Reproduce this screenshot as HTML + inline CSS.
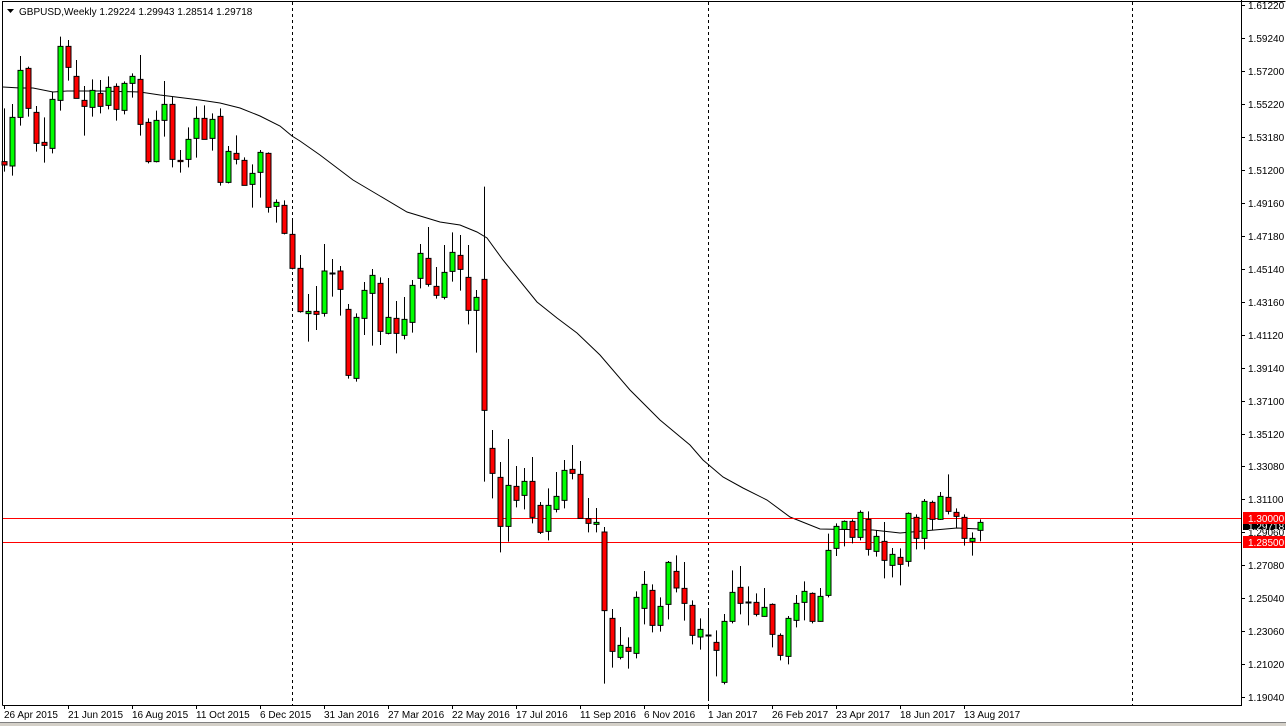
<!DOCTYPE html>
<html><head><meta charset="utf-8"><style>
html,body{margin:0;padding:0;background:#fff;}
svg{display:block;font-family:"Liberation Sans",Arial,sans-serif;}
.w{stroke:#000;stroke-width:1;fill:none;vector-effect:non-scaling-stroke}
.r{fill:#f00;stroke:#000;stroke-width:1;vector-effect:non-scaling-stroke}
.g{fill:#0f0;stroke:#000;stroke-width:1;vector-effect:non-scaling-stroke}
.t{font-size:10px;fill:#000}
</style></head><body>
<svg width="1286" height="726" viewBox="0 0 1286 726" xmlns="http://www.w3.org/2000/svg">
<rect x="0" y="0" width="1286" height="726" fill="#fff"/>
<rect x="0" y="722" width="1286" height="4" fill="#d4d0c8"/>
<!-- frame -->
<path d="M2.5 705.5V1.5H1285.5" stroke="#000" fill="none"/>
<line x1="2.5" y1="705.5" x2="1241.5" y2="705.5" stroke="#000"/>
<line x1="1241.5" y1="0" x2="1241.5" y2="706" stroke="#000"/>
<!-- dashed verticals -->
<g stroke="#000" stroke-dasharray="3,3">
<line x1="292.5" y1="2" x2="292.5" y2="705"/>
<line x1="708.5" y1="2" x2="708.5" y2="705"/>
<line x1="1132.5" y1="2" x2="1132.5" y2="705"/>
</g>
<!-- MA -->
<polyline fill="none" stroke="#000" stroke-width="1" points="3,87 20,88 33,88 53,92 67,91 100,91 140,92 160,95 200,100 220,103 240,108 260,116 280,126 292,136 300,141 320,155 353,180 380,196 407,212 440,222 460,225 477,232 487,238 503,260 537,302 557,318 577,333 600,355 630,390 660,420 690,445 703,460 723,477 743,488 767,500 790,517 820,529 873,530 900,533 923,531 957,528 980,529"/>
<!-- red lines -->
<line x1="3" y1="518.5" x2="1241" y2="518.5" stroke="#f00"/>
<line x1="3" y1="542.5" x2="1241" y2="542.5" stroke="#f00"/>
<!-- group 1 -->
<g transform="translate(0.5,30) scale(1,0.33333)">
<path class="w" d="M4 235V425M12 222V437M20 78V287M28 110V260M36 228V365M44 262V398M52 185V370M60 20V242M68 30V152M76 90V205M84 168V317M92 148V260M100 150V250M108 139V238M116 160V272M124 154V253M132 130V203M140 75V317M148 265V400M156 242V397M164 153V320M172 200V412M180 360V428M188 292V412M196 229V383M204 226V328M212 250V362M220 235V467M228 348V460M236 316V403M244 382V466M252 403V533M260 360V503M268 367V548M276 508V578M284 511V613M292 568V718"/>
<rect class="r" x="1.5" y="395" width="5" height="10"/>
<rect class="g" x="9.5" y="262" width="5" height="146"/>
<rect class="g" x="17.5" y="121" width="5" height="141"/>
<rect class="r" x="25.5" y="115" width="5" height="120"/>
<rect class="r" x="33.5" y="247" width="5" height="93"/>
<rect class="r" x="41.5" y="337" width="5" height="9"/>
<rect class="g" x="49.5" y="208" width="5" height="147"/>
<rect class="g" x="57.5" y="49" width="5" height="162"/>
<rect class="r" x="65.5" y="49" width="5" height="63"/>
<rect class="r" x="73.5" y="139" width="5" height="66"/>
<rect class="r" x="81.5" y="211" width="5" height="18"/>
<rect class="g" x="89.5" y="181" width="5" height="51"/>
<rect class="r" x="97.5" y="190" width="5" height="39"/>
<rect class="g" x="105.5" y="172" width="5" height="54"/>
<rect class="r" x="113.5" y="169" width="5" height="69"/>
<rect class="g" x="121.5" y="160" width="5" height="81"/>
<rect class="g" x="129.5" y="139" width="5" height="21"/>
<rect class="r" x="137.5" y="148" width="5" height="135"/>
<rect class="r" x="145.5" y="277" width="5" height="118"/>
<rect class="g" x="153.5" y="271" width="5" height="124"/>
<rect class="g" x="161.5" y="223" width="5" height="48"/>
<rect class="r" x="169.5" y="223" width="5" height="165"/>
<rect class="r" x="177.5" y="391" width="5" height="4"/>
<rect class="g" x="185.5" y="328" width="5" height="60"/>
<rect class="g" x="193.5" y="265" width="5" height="60"/>
<rect class="r" x="201.5" y="265" width="5" height="63"/>
<rect class="g" x="209.5" y="268" width="5" height="57"/>
<rect class="r" x="217.5" y="259" width="5" height="198"/>
<rect class="g" x="225.5" y="364" width="5" height="93"/>
<rect class="r" x="233.5" y="370" width="5" height="18"/>
<rect class="r" x="241.5" y="391" width="5" height="75"/>
<rect class="g" x="249.5" y="430" width="5" height="33"/>
<rect class="g" x="257.5" y="367" width="5" height="60"/>
<rect class="r" x="265.5" y="370" width="5" height="162"/>
<rect class="g" x="273.5" y="517" width="5" height="12"/>
<rect class="r" x="281.5" y="526" width="5" height="84"/>
<rect class="r" x="289.5" y="613" width="5" height="102"/>
</g>
<!-- group 2 -->
<g transform="translate(0.5,180) scale(1,0.33333)">
<path class="w" d="M300 225V398M308 342V485M316 318V450M324 192V410M332 237V350M340 258V407M348 372V596M356 400V605M364 306V465M372 267V497M380 292V495M388 294V463M396 363V520M404 351V478M412 300V458M420 192V325M428 141V320M436 261V356M444 195V358M452 157V305M460 165V332M468 195V433M476 330V518M484 20V905M492 750V955M500 846V1117M508 777V1085M516 858V982M524 864V988M532 831V1030M540 966V1062M548 925V1081M556 876V997M564 840V985M572 795V898M580 843V1015M588 954V1057M596 984V1057"/>
<rect class="r" x="297.5" y="265" width="5" height="130"/>
<rect class="g" x="305.5" y="394" width="5" height="7"/>
<rect class="r" x="313.5" y="394" width="5" height="9"/>
<rect class="g" x="321.5" y="273" width="5" height="127"/>
<rect class="g" x="329.5" y="279" width="5" height="3"/>
<rect class="r" x="337.5" y="273" width="5" height="55"/>
<rect class="r" x="345.5" y="388" width="5" height="198"/>
<rect class="g" x="353.5" y="412" width="5" height="183"/>
<rect class="g" x="361.5" y="331" width="5" height="84"/>
<rect class="g" x="369.5" y="286" width="5" height="54"/>
<rect class="r" x="377.5" y="310" width="5" height="144"/>
<rect class="g" x="385.5" y="412" width="5" height="48"/>
<rect class="r" x="393.5" y="415" width="5" height="45"/>
<rect class="g" x="401.5" y="418" width="5" height="48"/>
<rect class="g" x="409.5" y="316" width="5" height="111"/>
<rect class="g" x="417.5" y="220" width="5" height="75"/>
<rect class="r" x="425.5" y="235" width="5" height="78"/>
<rect class="r" x="433.5" y="319" width="5" height="27"/>
<rect class="g" x="441.5" y="277" width="5" height="75"/>
<rect class="g" x="449.5" y="217" width="5" height="57"/>
<rect class="r" x="457.5" y="226" width="5" height="42"/>
<rect class="r" x="465.5" y="292" width="5" height="99"/>
<rect class="g" x="473.5" y="352" width="5" height="39"/>
<rect class="r" x="481.5" y="298" width="5" height="393"/>
<rect class="r" x="489.5" y="805" width="5" height="75"/>
<rect class="r" x="497.5" y="892" width="5" height="147"/>
<rect class="g" x="505.5" y="916" width="5" height="123"/>
<rect class="r" x="513.5" y="919" width="5" height="42"/>
<rect class="g" x="521.5" y="904" width="5" height="42"/>
<rect class="r" x="529.5" y="904" width="5" height="108"/>
<rect class="r" x="537.5" y="976" width="5" height="81"/>
<rect class="g" x="545.5" y="976" width="5" height="78"/>
<rect class="g" x="553.5" y="949" width="5" height="39"/>
<rect class="g" x="561.5" y="871" width="5" height="90"/>
<rect class="r" x="569.5" y="868" width="5" height="12"/>
<rect class="r" x="577.5" y="883" width="5" height="132"/>
<rect class="r" x="585.5" y="1016" width="5" height="14"/>
<rect class="g" x="593.5" y="1027" width="5" height="6"/>
</g>
<!-- group 3 -->
<g transform="translate(0.5,460) scale(1,0.33333)">
<path class="w" d="M604 201V671M612 447V623M620 501V598M628 532V626M636 394V595M644 333V493M652 373V517M660 412V515M668 303V478M676 286V397M684 306V482M692 421V553M700 475V569M708 448V718M716 511V649M724 462V673M732 331V490M740 318V463M748 379V496M756 400V469M764 384V470M772 430V562M780 520V601M788 468V613M796 405V502M804 364V481M812 397V490M820 384V485M828 221V412M836 190V288M844 181V259M852 178V250M860 151V241M868 154V287M876 211V290M884 186V355M892 264V352M900 265V376M908 157V320M916 163V268M924 117V268M932 122V210M940 96V180M948 43V163M956 145V204M964 163V257M972 217V287M980 178V244"/>
<rect class="r" x="601.5" y="216" width="5" height="236"/>
<rect class="r" x="609.5" y="475" width="5" height="99"/>
<rect class="g" x="617.5" y="556" width="5" height="36"/>
<rect class="r" x="625.5" y="562" width="5" height="12"/>
<rect class="g" x="633.5" y="412" width="5" height="168"/>
<rect class="g" x="641.5" y="373" width="5" height="72"/>
<rect class="r" x="649.5" y="391" width="5" height="105"/>
<rect class="g" x="657.5" y="439" width="5" height="57"/>
<rect class="g" x="665.5" y="307" width="5" height="126"/>
<rect class="r" x="673.5" y="334" width="5" height="50"/>
<rect class="r" x="681.5" y="385" width="5" height="45"/>
<rect class="r" x="689.5" y="436" width="5" height="90"/>
<rect class="g" x="697.5" y="508" width="5" height="23"/>
<rect class="g" x="705.5" y="525" width="5" height="3"/>
<rect class="r" x="713.5" y="547" width="5" height="24"/>
<rect class="g" x="721.5" y="484" width="5" height="183"/>
<rect class="g" x="729.5" y="397" width="5" height="87"/>
<rect class="r" x="737.5" y="382" width="5" height="48"/>
<rect class="g" x="745.5" y="426" width="5" height="3"/>
<rect class="r" x="753.5" y="427" width="5" height="36"/>
<rect class="g" x="761.5" y="442" width="5" height="27"/>
<rect class="r" x="769.5" y="433" width="5" height="90"/>
<rect class="r" x="777.5" y="526" width="5" height="60"/>
<rect class="g" x="785.5" y="475" width="5" height="114"/>
<rect class="g" x="793.5" y="430" width="5" height="51"/>
<rect class="g" x="801.5" y="394" width="5" height="33"/>
<rect class="r" x="809.5" y="400" width="5" height="84"/>
<rect class="g" x="817.5" y="409" width="5" height="75"/>
<rect class="g" x="825.5" y="271" width="5" height="135"/>
<rect class="g" x="833.5" y="199" width="5" height="66"/>
<rect class="g" x="841.5" y="184" width="5" height="24"/>
<rect class="r" x="849.5" y="184" width="5" height="48"/>
<rect class="g" x="857.5" y="157" width="5" height="75"/>
<rect class="r" x="865.5" y="178" width="5" height="90"/>
<rect class="g" x="873.5" y="229" width="5" height="45"/>
<rect class="r" x="881.5" y="244" width="5" height="57"/>
<rect class="g" x="889.5" y="283" width="5" height="33"/>
<rect class="r" x="897.5" y="292" width="5" height="21"/>
<rect class="g" x="905.5" y="160" width="5" height="144"/>
<rect class="r" x="913.5" y="172" width="5" height="63"/>
<rect class="g" x="921.5" y="124" width="5" height="111"/>
<rect class="r" x="929.5" y="127" width="5" height="51"/>
<rect class="g" x="937.5" y="109" width="5" height="69"/>
<rect class="r" x="945.5" y="112" width="5" height="42"/>
<rect class="r" x="953.5" y="157" width="5" height="12"/>
<rect class="r" x="961.5" y="172" width="5" height="63"/>
<rect class="g" x="969.5" y="235" width="5" height="9"/>
<rect class="g" x="977.5" y="187" width="5" height="24"/>
</g>
<!-- header -->
<path d="M7 9h7l-3.5 4z" fill="#000"/>
<text class="t" x="19" y="15">GBPUSD,Weekly  1.29224 1.29943 1.28514 1.29718</text>
<!-- price axis ticks -->
<g stroke="#000">
<line x1="1241" y1="5.5" x2="1245" y2="5.5"/><line x1="1241" y1="38.5" x2="1245" y2="38.5"/><line x1="1241" y1="71.5" x2="1245" y2="71.5"/><line x1="1241" y1="104.5" x2="1245" y2="104.5"/><line x1="1241" y1="137.5" x2="1245" y2="137.5"/><line x1="1241" y1="170.5" x2="1245" y2="170.5"/><line x1="1241" y1="203.5" x2="1245" y2="203.5"/><line x1="1241" y1="236.5" x2="1245" y2="236.5"/><line x1="1241" y1="269.5" x2="1245" y2="269.5"/><line x1="1241" y1="302.5" x2="1245" y2="302.5"/><line x1="1241" y1="335.5" x2="1245" y2="335.5"/><line x1="1241" y1="368.5" x2="1245" y2="368.5"/><line x1="1241" y1="401.5" x2="1245" y2="401.5"/><line x1="1241" y1="434.5" x2="1245" y2="434.5"/><line x1="1241" y1="466.5" x2="1245" y2="466.5"/><line x1="1241" y1="499.5" x2="1245" y2="499.5"/><line x1="1241" y1="532.5" x2="1245" y2="532.5"/><line x1="1241" y1="565.5" x2="1245" y2="565.5"/><line x1="1241" y1="598.5" x2="1245" y2="598.5"/><line x1="1241" y1="631.5" x2="1245" y2="631.5"/><line x1="1241" y1="664.5" x2="1245" y2="664.5"/><line x1="1241" y1="697.5" x2="1245" y2="697.5"/>
</g>
<g class="t">
<text class="t" x="1248" y="9">1.61220</text><text class="t" x="1248" y="42">1.59240</text><text class="t" x="1248" y="75">1.57200</text><text class="t" x="1248" y="108">1.55220</text><text class="t" x="1248" y="141">1.53180</text><text class="t" x="1248" y="174">1.51200</text><text class="t" x="1248" y="207">1.49160</text><text class="t" x="1248" y="240">1.47180</text><text class="t" x="1248" y="273">1.45140</text><text class="t" x="1248" y="306">1.43160</text><text class="t" x="1248" y="339">1.41120</text><text class="t" x="1248" y="372">1.39140</text><text class="t" x="1248" y="405">1.37100</text><text class="t" x="1248" y="438">1.35120</text><text class="t" x="1248" y="470">1.33080</text><text class="t" x="1248" y="503">1.31100</text><text class="t" x="1248" y="536">1.29060</text><text class="t" x="1248" y="569">1.27080</text><text class="t" x="1248" y="602">1.25040</text><text class="t" x="1248" y="635">1.23060</text><text class="t" x="1248" y="668">1.21020</text><text class="t" x="1248" y="701">1.19040</text>
</g>
<rect x="1243" y="522" width="42" height="8" fill="#000"/>
<text x="1248" y="530" font-size="10" fill="#fff">1.29718</text>
<rect x="1243" y="512" width="42" height="12" fill="#f00"/>
<text x="1248" y="522" font-size="10" fill="#fff">1.30000</text>
<rect x="1243" y="536" width="42" height="12" fill="#f00"/>
<text x="1248" y="546" font-size="10" fill="#fff">1.28500</text>
<!-- time axis -->
<g stroke="#000">
<line x1="4.5" y1="705" x2="4.5" y2="709"/><line x1="68.5" y1="705" x2="68.5" y2="709"/><line x1="132.5" y1="705" x2="132.5" y2="709"/><line x1="196.5" y1="705" x2="196.5" y2="709"/><line x1="260.5" y1="705" x2="260.5" y2="709"/><line x1="324.5" y1="705" x2="324.5" y2="709"/><line x1="388.5" y1="705" x2="388.5" y2="709"/><line x1="452.5" y1="705" x2="452.5" y2="709"/><line x1="516.5" y1="705" x2="516.5" y2="709"/><line x1="580.5" y1="705" x2="580.5" y2="709"/><line x1="644.5" y1="705" x2="644.5" y2="709"/><line x1="708.5" y1="705" x2="708.5" y2="709"/><line x1="772.5" y1="705" x2="772.5" y2="709"/><line x1="836.5" y1="705" x2="836.5" y2="709"/><line x1="900.5" y1="705" x2="900.5" y2="709"/><line x1="964.5" y1="705" x2="964.5" y2="709"/>
</g>
<text class="t" x="4" y="718">26 Apr 2015</text><text class="t" x="68" y="718">21 Jun 2015</text><text class="t" x="132" y="718">16 Aug 2015</text><text class="t" x="196" y="718">11 Oct 2015</text><text class="t" x="260" y="718">6 Dec 2015</text><text class="t" x="324" y="718">31 Jan 2016</text><text class="t" x="388" y="718">27 Mar 2016</text><text class="t" x="452" y="718">22 May 2016</text><text class="t" x="516" y="718">17 Jul 2016</text><text class="t" x="580" y="718">11 Sep 2016</text><text class="t" x="644" y="718">6 Nov 2016</text><text class="t" x="708" y="718">1 Jan 2017</text><text class="t" x="772" y="718">26 Feb 2017</text><text class="t" x="836" y="718">23 Apr 2017</text><text class="t" x="900" y="718">18 Jun 2017</text><text class="t" x="964" y="718">13 Aug 2017</text>
<line x1="0" y1="722.5" x2="1286" y2="722.5" stroke="#808080"/>
</svg>
</body></html>
